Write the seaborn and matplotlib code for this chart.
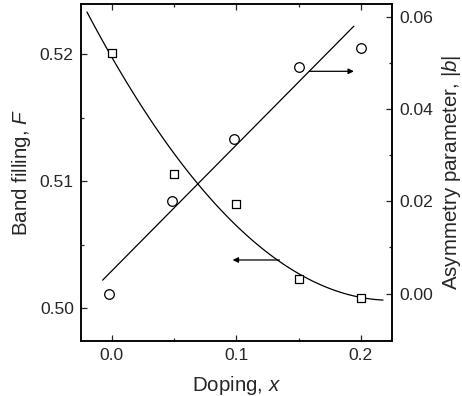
import numpy as np
import pandas as pd
import matplotlib
matplotlib.use("Agg")
import matplotlib.pyplot as plt
from matplotlib.ticker import MultipleLocator
import seaborn as sns

# ---- data ----
doping_F = [0.0, 0.05, 0.10, 0.15, 0.20]
band_filling = [0.5201, 0.51055, 0.5082, 0.50228, 0.5008]

doping_b = [-0.002, 0.048, 0.098, 0.15, 0.20]
asym_b = [0.0000, 0.0201, 0.0335, 0.0491, 0.0532]

# fitted curve for F
curve_x = [-0.0200, -0.0008, 0.0152, 0.0312, 0.0472, 0.0632, 0.0686, 0.0898,
           0.1112, 0.1326, 0.1538, 0.1752, 0.1966, 0.2178]
curve_F = [0.52307, 0.52005, 0.51743, 0.51478, 0.51245, 0.51062, 0.50983, 0.50747,
           0.50537, 0.50380, 0.50249, 0.50157, 0.50097, 0.50065]

# straight fit line for |b|
line_x = [-0.0074, 0.1944]
line_b = [0.0029, 0.0580]

# arrows: (x_start, x_end, y)
arrow_F = [0.1346, 0.0970, 0.5038]
arrow_b = [0.1584, 0.1944, 0.0482]

x_ticks = [0.0, 0.1, 0.2]
F_ticks = [0.50, 0.51, 0.52]
b_ticks = [0.00, 0.02, 0.04, 0.06]

# ---- style ----
sns.set_style("ticks")
plt.rcParams['font.family'] = ['Liberation Sans', 'DejaVu Sans']
plt.rcParams['mathtext.fontset'] = 'custom'
plt.rcParams['mathtext.it'] = 'Liberation Sans:italic'
plt.rcParams['mathtext.rm'] = 'Liberation Sans'

fig = plt.figure(figsize=(4.62, 3.96), dpi=100)
ax = fig.add_axes([0.1747, 0.1389, 0.8485 - 0.1747, 0.9899 - 0.1389])
ax2 = ax.twinx()

dfF = pd.DataFrame({"x": doping_F, "F": band_filling})
dfb = pd.DataFrame({"x": doping_b, "b": asym_b})
dfc = pd.DataFrame({"x": curve_x, "F": curve_F})
dfl = pd.DataFrame({"x": line_x, "b": line_b})

sns.regplot(data=dfc, x="x", y="F", ax=ax, order=2, scatter=False, ci=None,
            truncate=True, line_kws=dict(color="black", lw=0.9))
sns.scatterplot(data=dfF, x="x", y="F", ax=ax, marker="s", s=38,
                facecolor="white", edgecolor="black", linewidth=0.9, zorder=3)
sns.lineplot(data=dfl, x="x", y="b", ax=ax2, color="black", lw=0.9, sort=False)
sns.scatterplot(data=dfb, x="x", y="b", ax=ax2, marker="o", s=48,
                facecolor="white", edgecolor="black", linewidth=0.9, zorder=3)

ax.annotate("", xy=(arrow_F[1], arrow_F[2]), xytext=(arrow_F[0], arrow_F[2]),
            xycoords="data",
            arrowprops=dict(arrowstyle="-|>", color="black", lw=0.9,
                            mutation_scale=8, shrinkA=0, shrinkB=0))
ax2.annotate("", xy=(arrow_b[1], arrow_b[2]), xytext=(arrow_b[0], arrow_b[2]),
             xycoords="data",
             arrowprops=dict(arrowstyle="-|>", color="black", lw=0.9,
                             mutation_scale=8, shrinkA=0, shrinkB=0))

ax.set_xlim(-0.025, 0.225)
ax.set_ylim(0.49743, 0.52393)
ax2.set_ylim(-0.0103, 0.0628)

ax.set_xticks(x_ticks)
ax.set_xticklabels([f"{v:.1f}" for v in x_ticks])
ax.set_yticks(F_ticks)
ax.set_yticklabels([f"{v:.2f}" for v in F_ticks])
ax2.set_yticks(b_ticks)
ax2.set_yticklabels([f"{v:.2f}" for v in b_ticks])
ax.xaxis.set_minor_locator(MultipleLocator(0.05))
ax.yaxis.set_minor_locator(MultipleLocator(0.005))
ax2.yaxis.set_minor_locator(MultipleLocator(0.01))

fs_tick = 12.6
fs_lab = 14.8
ax.tick_params(which="both", direction="in", top=True, right=False, width=0.9,
               labelsize=fs_tick, pad=5)
ax.tick_params(which="major", length=4.5)
ax.tick_params(which="minor", length=2.5)
ax2.tick_params(which="both", direction="in", width=0.9, labelsize=fs_tick, pad=5)
ax2.tick_params(which="major", length=4.5)
ax2.tick_params(which="minor", length=2.5)

for a in (ax, ax2):
    for s in a.spines.values():
        s.set_visible(True)
        s.set_linewidth(1.1)
        s.set_color("black")

ax.set_xlabel("Doping, $\\mathit{x}$", fontsize=fs_lab, labelpad=8)
ax.set_ylabel("Band filling, $\\mathit{F}$", fontsize=fs_lab, labelpad=5)
ax2.set_ylabel("Asymmetry parameter, |$\\mathit{b}$|", fontsize=fs_lab, labelpad=5)

fig.savefig("out.png", dpi=100)
